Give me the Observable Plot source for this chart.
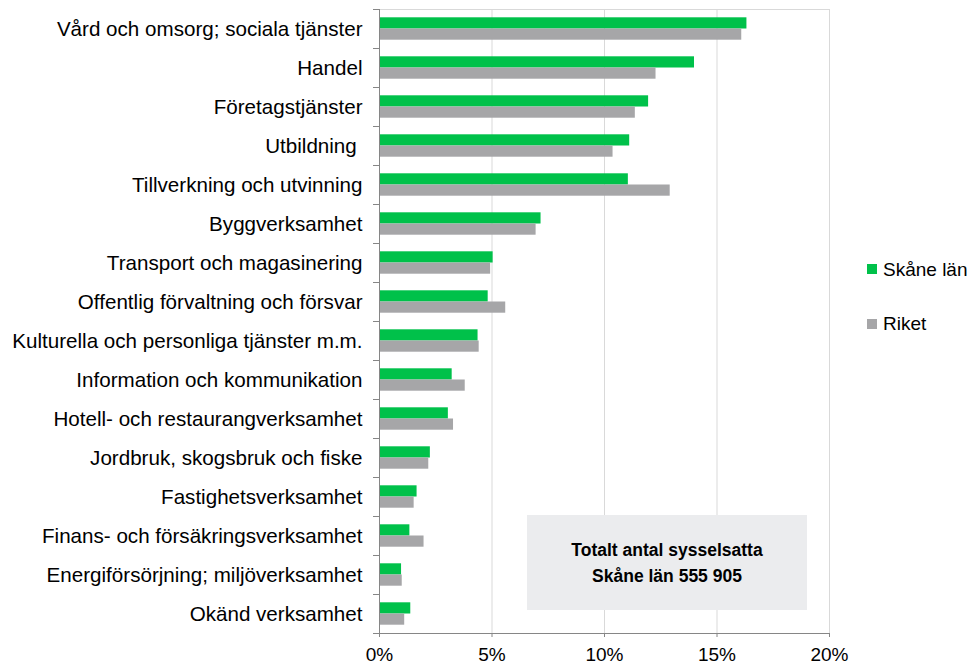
<!DOCTYPE html>
<html><head><meta charset="utf-8">
<script src="https://cdn.jsdelivr.net/npm/d3@7"></script>
<script src="https://cdn.jsdelivr.net/npm/@observablehq/plot@0.6"></script>
<style>
body{margin:0;background:#fff;font-family:"Liberation Sans",Arial,sans-serif;}
#wrap{position:relative;width:976px;height:665px;overflow:hidden;}
#wrap svg{position:absolute;left:0;top:0;}
.sw{position:absolute;width:10px;height:10px;}
.lt{position:absolute;font-size:19px;line-height:19px;color:#000;white-space:nowrap;}
#note{position:absolute;left:527px;top:515px;width:280px;height:95px;background:#EBECEE;display:flex;align-items:center;justify-content:center;text-align:center;font-weight:bold;font-size:17.5px;line-height:26px;color:#000;}
</style></head><body><div id="wrap"></div>
<script>
const categories = [
  "Vård och omsorg; sociala tjänster",
  "Handel",
  "Företagstjänster",
  "Utbildning\u00A0",
  "Tillverkning och utvinning",
  "Byggverksamhet",
  "Transport och magasinering",
  "Offentlig förvaltning och försvar",
  "Kulturella och personliga tjänster m.m.",
  "Information och kommunikation",
  "Hotell- och restaurangverksamhet",
  "Jordbruk, skogsbruk och fiske",
  "Fastighetsverksamhet",
  "Finans- och försäkringsverksamhet",
  "Energiförsörjning; miljöverksamhet",
  "Okänd verksamhet"
];
const skane = [16.33, 14.0, 11.96, 11.12, 11.06, 7.18, 5.05, 4.83, 4.38, 3.23, 3.06, 2.26, 1.67, 1.35, 0.98, 1.39];
const riket = [16.1, 12.29, 11.37, 10.38, 12.92, 6.96, 4.94, 5.61, 4.43, 3.81, 3.29, 2.19, 1.54, 1.98, 1.01, 1.12];
const xTicks = [0, 5, 10, 15, 20];
const seriesNames = ["Skåne län", "Riket"];
const seriesColors = ["#00C14A", "#A6A6A8"];
const noteLines = ["Totalt antal sysselsatta", "Skåne län 555 905"];

const data = categories.map((c, i) => ({category: c, skane: skane[i], riket: riket[i]}));

const chart = Plot.plot({
  width: 976, height: 665,
  marginLeft: 379, marginRight: 147, marginTop: 9, marginBottom: 32,
  style: {fontFamily: "Liberation Sans, Arial, sans-serif", fontSize: "20px", color: "#000", background: "#fff", overflow: "visible"},
  x: {domain: [0, 20]},
  y: {domain: categories, padding: 0},
  marks: [
    Plot.ruleX(xTicks.slice(1), {stroke: "#d9d9d9"}),
    Plot.frame({anchor: "top", stroke: "#d9d9d9"}),
    Plot.barX(data, {x: "skane", y: "category", fill: seriesColors[0], insetTop: 8.3, insetBottom: 19.5}),
    Plot.barX(data, {x: "riket", y: "category", fill: seriesColors[1], insetTop: 19.5, insetBottom: 8.3}),
    Plot.ruleX([0], {stroke: "#868686"}),
    Plot.frame({anchor: "bottom", stroke: "#868686", insetLeft: -6}),
    Plot.axisX({ticks: xTicks, tickFormat: d => d + "%", tickSize: 4, tickPadding: 10, stroke: "#868686", fill: "#000", label: null, fontSize: 19}),
    Plot.axisY({tickSize: 0, tickPadding: 17, label: null, fill: "#000", fontSize: 20.6}),
    Plot.axisY({tickSize: 6, tickFormat: () => "", dy: -19.5, stroke: "#868686", label: null})
  ]
});

const wrap = document.getElementById("wrap");
wrap.appendChild(chart);

const legendPos = [{sq: 264, tx: 260}, {sq: 319, tx: 314}];
seriesNames.forEach((name, i) => {
  const sw = document.createElement("div");
  sw.className = "sw";
  sw.style.left = "867px"; sw.style.top = legendPos[i].sq + "px";
  sw.style.background = seriesColors[i];
  wrap.appendChild(sw);
  const t = document.createElement("div");
  t.className = "lt";
  t.style.left = "883px"; t.style.top = legendPos[i].tx + "px";
  t.textContent = name;
  wrap.appendChild(t);
});

const note = document.createElement("div");
note.id = "note";
note.innerHTML = noteLines.join("<br>");
wrap.appendChild(note);
</script>
</body></html>
